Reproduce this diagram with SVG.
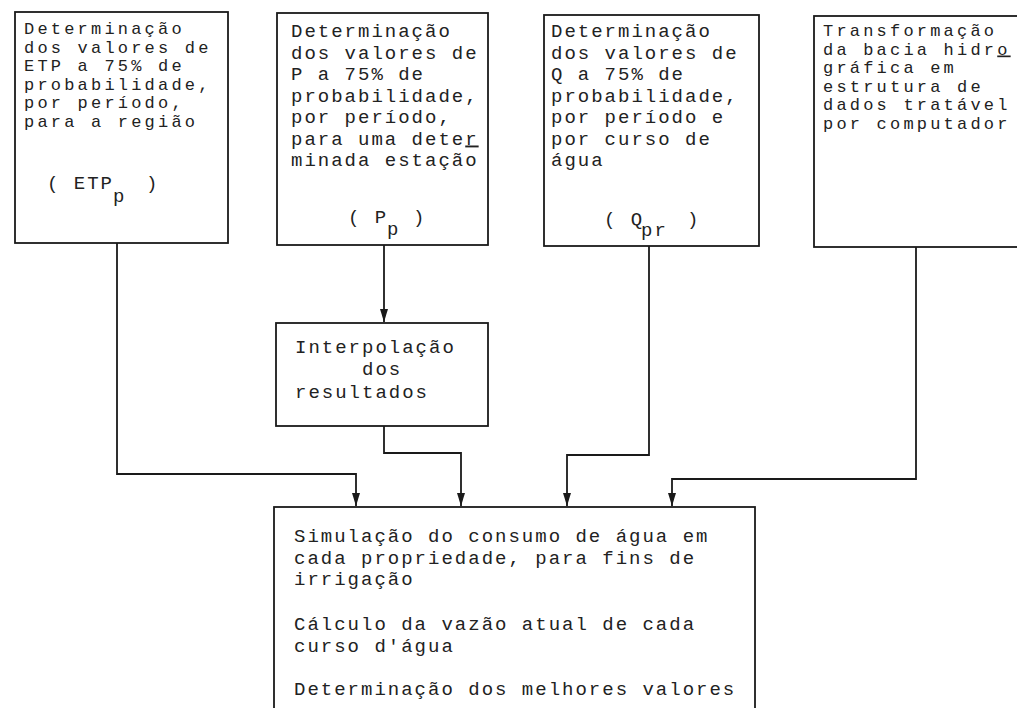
<svg xmlns="http://www.w3.org/2000/svg" width="1017" height="708" viewBox="0 0 1017 708">
<style>
.box{fill:#fff;stroke:#1a1a1a;stroke-width:1.8}
.t{font-family:"Liberation Mono","DejaVu Sans Mono",monospace;font-size:19px;letter-spacing:2px;fill:#222}
.s{font-size:17px;letter-spacing:3.2px}
.c{fill:none;stroke:#1a1a1a;stroke-width:1.8}
.u{text-decoration:underline}
</style>
<defs>
<marker id="arr" viewBox="0 0 13 8" refX="13" refY="4" markerWidth="13" markerHeight="8" markerUnits="userSpaceOnUse" orient="auto">
<path d="M0,0 L13,4 L0,8 z" fill="#1a1a1a"/>
</marker>
</defs>
<rect width="1017" height="708" fill="#fff"/>

<g id="connectors">
<path class="c" d="M117 243 V474 H356 V506" marker-end="url(#arr)"/>
<path class="c" d="M384 245 V322" marker-end="url(#arr)"/>
<path class="c" d="M384 426 V453 H461 V506" marker-end="url(#arr)"/>
<path class="c" d="M649 246 V455 H567 V506" marker-end="url(#arr)"/>
<path class="c" d="M916 247 V479 H672 V506" marker-end="url(#arr)"/>
</g>

<g id="etp">
<rect class="box" x="15" y="12" width="213" height="231"/>
<text class="t s" x="24" y="34">Determinação</text>
<text class="t s" x="24" y="52.5">dos valores de</text>
<text class="t s" x="24" y="71">ETP a 75% de</text>
<text class="t s" x="24" y="89.5">probabilidade,</text>
<text class="t s" x="24" y="108">por período,</text>
<text class="t s" x="24" y="126.5">para a região</text>
<text class="t" x="47" y="189">( ETP</text>
<text class="t" x="113" y="202">p</text>
<text class="t" x="146" y="189">)</text>
</g>

<g id="p">
<rect class="box" x="277" y="13" width="211" height="232"/>
<text class="t" x="291" y="37">Determinação</text>
<text class="t" x="291" y="58.5">dos valores de</text>
<text class="t" x="291" y="80">P a 75% de</text>
<text class="t" x="291" y="101.5">probabilidade,</text>
<text class="t" x="291" y="123">por período,</text>
<text class="t" x="291" y="144.5">para uma dete<tspan class="u">r</tspan></text>
<text class="t" x="291" y="166">minada estação</text>
<text class="t" x="348" y="223">( P</text>
<text class="t" x="387" y="235">p</text>
<text class="t" x="413" y="223">)</text>
</g>

<g id="q">
<rect class="box" x="544" y="15" width="215" height="231"/>
<text class="t" x="551" y="37">Determinação</text>
<text class="t" x="551" y="58.5">dos valores de</text>
<text class="t" x="551" y="80">Q a 75% de</text>
<text class="t" x="551" y="101.5">probabilidade,</text>
<text class="t" x="551" y="123">por período e</text>
<text class="t" x="551" y="144.5">por curso de</text>
<text class="t" x="551" y="166">água</text>
<text class="t" x="604" y="225">( Q</text>
<text class="t" x="641" y="236">pr</text>
<text class="t" x="687" y="225">)</text>
</g>

<g id="bacia">
<rect class="box" x="814" y="16" width="225" height="231"/>
<text class="t s" x="823" y="36">Transformação</text>
<text class="t s" x="823" y="54.5">da bacia hidr<tspan class="u">o</tspan></text>
<text class="t s" x="823" y="73">gráfica em</text>
<text class="t s" x="823" y="91.5">estrutura de</text>
<text class="t s" x="823" y="110">dados tratável</text>
<text class="t s" x="823" y="128.5">por computador</text>
</g>

<g id="interpolacao">
<rect class="box" x="276" y="323" width="212" height="103"/>
<text class="t" x="295" y="353">Interpolação</text>
<text class="t" x="362" y="375">dos</text>
<text class="t" x="295" y="398">resultados</text>
</g>

<g id="simulacao">
<rect class="box" x="274" y="507" width="481" height="240"/>
<text class="t" x="294" y="542">Simulação do consumo de água em</text>
<text class="t" x="294" y="563.5">cada propriedade, para fins de</text>
<text class="t" x="294" y="585">irrigação</text>
<text class="t" x="294" y="630">Cálculo da vazão atual de cada</text>
<text class="t" x="294" y="652">curso d'água</text>
<text class="t" x="294" y="695">Determinação dos melhores valores</text>
</g>
</svg>
